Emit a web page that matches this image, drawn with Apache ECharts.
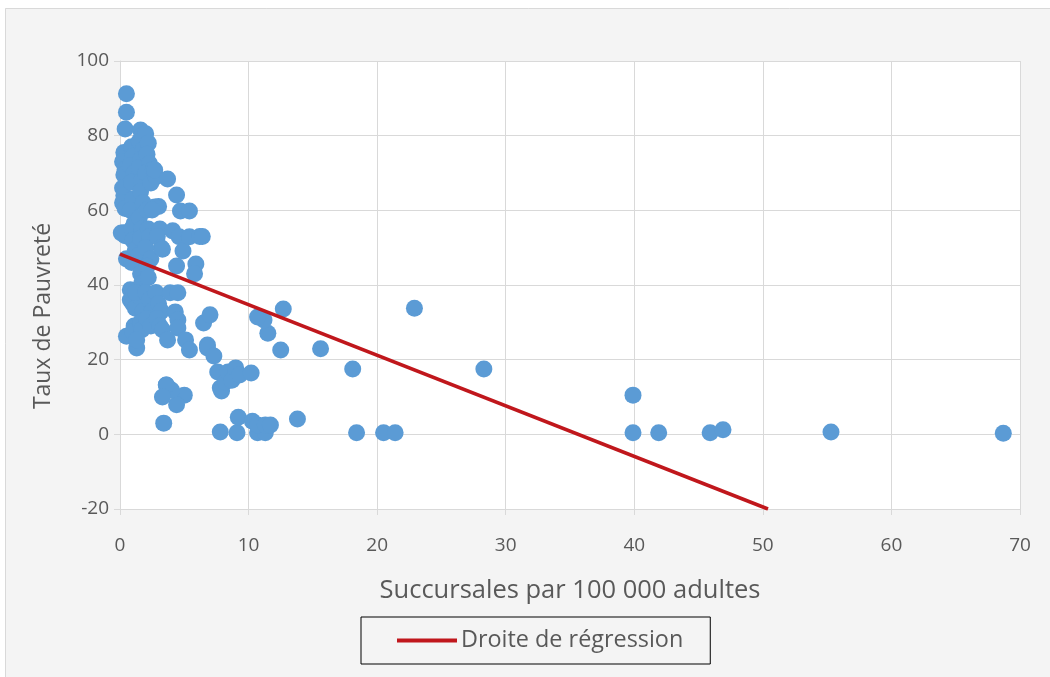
<!DOCTYPE html>
<html><head><meta charset="utf-8">
<script src="https://cdn.jsdelivr.net/npm/echarts@6/dist/echarts.min.js"></script>
<style>
html,body{margin:0;padding:0;background:#ffffff;}
#c{position:absolute;left:0;top:0;width:1050px;height:677px;}
</style></head>
<body><div id="c"></div>
<script>
// Succursales par 100 000 adultes (x) et Taux de Pauvreté (y)
const branchesX = [
 0.5,0.5,0.4,0.3,0.2,0.4,0.3,0.2,0.3,0.2,0.4,0.3,0.4,0.1,0.5,0.8,0.5,
 0.9,1.0,0.8,1.1,0.9,1.0,0.8,1.1,0.9,1.0,1.2,0.9,0.8,1.0,1.2,1.1,1.0,1.3,
 1.6,1.7,1.5,1.8,1.6,1.5,1.7,1.6,1.8,1.5,1.7,1.6,1.5,1.8,1.6,1.7,1.5,1.8,1.6,1.7,1.3,1.2,
 2.0,2.2,2.1,2.3,2.0,2.4,2.1,2.2,2.3,2.0,2.4,2.1,2.2,2.0,2.3,2.5,2.1,2.4,
 2.6,2.8,3.0,2.7,3.1,2.9,3.2,2.8,3.0,3.2,2.9,3.1,3.3,2.5,2.7,3.3,
 3.6,3.7,4.4,4.1,4.6,4.4,3.9,4.5,4.3,4.5,4.5,5.1,5.4,3.7,4.7,5.4,4.9,5.4,5.9,5.8,6.2,6.4,
 5.0,4.4,4.0,3.6,3.3,3.4,
 6.5,7.0,6.8,6.8,7.3,7.6,7.8,7.9,8.2,8.4,8.7,9.0,9.3,10.2,
 7.8,9.1,9.2,10.3,10.7,11.3,10.7,11.3,11.7,11.5,11.2,10.7,12.5,12.7,13.8,
 15.6,18.1,18.4,20.5,21.4,22.9,28.3,39.9,39.9,41.9,45.9,46.9,55.3,68.7
];
const povertyY = [
 91.2,86.3,81.8,75.5,73.0,71.0,69.5,66.0,64.0,62.0,60.5,54.0,53.2,53.9,47.0,38.7,26.3,
 77.0,74.5,72.0,70.0,67.5,63.0,60.0,56.5,55.0,52.0,49.5,46.0,36.0,35.0,33.8,29.0,27.5,23.1,
 81.5,80.0,78.5,76.2,73.5,71.5,68.0,65.0,62.0,58.0,55.0,52.5,48.0,45.0,43.0,40.5,37.0,33.0,30.0,28.0,25.3,38.0,
 80.5,78.0,75.0,72.5,70.0,67.3,60.1,55.0,53.0,50.0,47.0,45.0,42.0,38.0,36.0,33.0,31.0,29.0,
 71.0,69.0,61.0,60.9,55.0,53.0,50.0,38.0,35.0,33.0,31.0,29.0,28.0,60.1,70.8,49.6,
 13.2,68.4,64.1,54.5,52.9,45.1,37.9,37.9,32.8,30.6,28.5,25.3,22.6,25.3,59.8,59.8,49.1,52.9,45.6,43.0,53.0,53.0,
 10.5,7.9,11.9,13.2,10.0,3.0,
 29.8,32.0,23.9,23.1,21.0,16.7,12.4,11.6,14.0,16.7,14.5,17.8,15.9,16.4,
 0.6,0.4,4.6,3.5,0.4,0.4,2.5,2.5,2.5,27.1,30.6,31.4,22.6,33.6,4.1,
 22.9,17.5,0.4,0.4,0.4,33.8,17.5,10.5,0.4,0.4,0.4,1.2,0.6,0.3
];
const regressionX = [0, 50.4];
const regressionY = [48.3, -20];
const xTicks = [0,10,20,30,40,50,60,70];
const yTicks = [-20,0,20,40,60,80,100];
const yTitle = 'Taux de Pauvreté';
const xTitle = 'Succursales par 100 000 adultes';

const points = branchesX.map((x,i)=>[x, povertyY[i]]);
const regLine = regressionX.map((x,i)=>[x, regressionY[i]]);

const FONT = '"Open Sans", sans-serif';
const TXT = '#595959';
const GRID = '#d9d9d9';

const chart = echarts.init(document.getElementById('c'), null, {renderer:'canvas'});
chart.setOption({
  backgroundColor: '#f4f4f4',
  animation: false,
  graphic: [
    {type:'rect', shape:{x:5.5,y:8.5,width:1060,height:700}, style:{fill:'none', stroke:'#d9d9d9', lineWidth:1}, silent:true, z:-1},
    {type:'rect', shape:{x:0,y:0,width:5,height:677}, style:{fill:'#ffffff'}, silent:true, z:-2},
    {type:'rect', shape:{x:0,y:0,width:1050,height:8}, style:{fill:'#ffffff'}, silent:true, z:-2},
    {type:'text', x:43, y:316, rotation:Math.PI/2,
     style:{text:yTitle, fontFamily:FONT, fontSize:23, fill:TXT, align:'center', verticalAlign:'middle'}}
  ],
  grid: {left:120, top:61, width:900, height:448, show:true, backgroundColor:'#ffffff', borderWidth:0},
  xAxis: {
    type:'value', min:xTicks[0], max:xTicks[xTicks.length-1], interval:10,
    name:xTitle, nameLocation:'middle', nameGap:69,
    nameTextStyle:{fontFamily:FONT, fontSize:25.5, color:TXT},
    axisLine:{show:true, onZero:false, lineStyle:{color:GRID, width:1}},
    axisTick:{show:true, length:6, lineStyle:{color:GRID}},
    axisLabel:{fontFamily:FONT, fontSize:19, color:TXT, margin:27},
    splitLine:{show:true, lineStyle:{color:GRID, width:1}}
  },
  yAxis: {
    type:'value', min:yTicks[0], max:yTicks[yTicks.length-1], interval:20,
    axisLine:{show:true, onZero:false, lineStyle:{color:GRID, width:1}},
    axisTick:{show:true, length:6, lineStyle:{color:GRID}},
    axisLabel:{fontFamily:FONT, fontSize:19, color:TXT, margin:11},
    splitLine:{show:true, lineStyle:{color:GRID, width:1}}
  },
  legend: {
    data:[{name:'Droite de régression', icon:'rect'}],
    left:361, top:617, orient:'horizontal',
    borderColor:'#000000', borderWidth:1,
    padding:[12, 27, 12, 36],
    itemWidth:60, itemHeight:4, itemGap:6,
    textStyle:{fontFamily:FONT, fontSize:23.4, color:TXT, padding:[0,0,0,-1]}
  },
  series: [
    {
      name:'Points', type:'scatter', data:points, symbol:'circle', symbolSize:17,
      itemStyle:{color:'#5b9bd5', opacity:1}, z:2
    },
    {
      name:'Droite de régression', type:'line', data:regLine, symbol:'none', showSymbol:false,
      lineStyle:{color:'#c0171c', width:3.5}, itemStyle:{color:'#c0171c'}, z:3
    }
  ]
});
</script></body></html>
